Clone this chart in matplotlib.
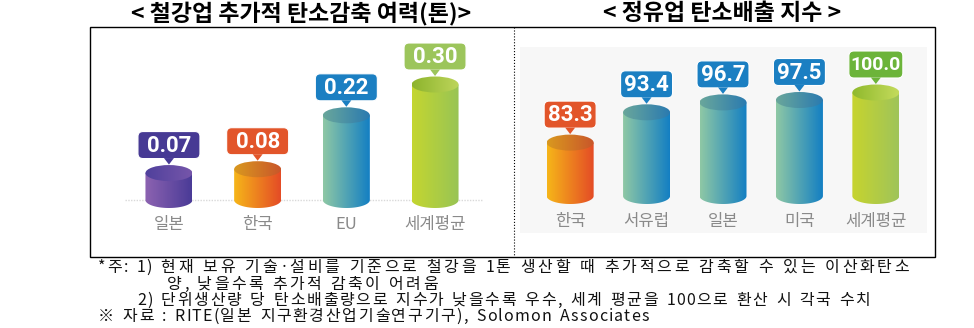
import numpy as np
import matplotlib
matplotlib.use('Agg')
import matplotlib.pyplot as plt
from matplotlib.patches import Polygon, Ellipse, FancyBboxPatch, Rectangle
from matplotlib.colors import LinearSegmentedColormap

plt.rcParams['font.family'] = ['Noto Sans CJK KR', 'DejaVu Sans']

W, H = 974, 328

# data
steel_cats = ['일본', '한국', 'EU', '세계평균']
steel_vals = [0.07, 0.08, 0.22, 0.30]
steel_labels = ['0.07', '0.08', '0.22', '0.30']

refine_cats = ['한국', '서유럽', '일본', '미국', '세계평균']
refine_vals = [83.3, 93.4, 96.7, 97.5, 100.0]
refine_labels = ['83.3', '93.4', '96.7', '97.5', '100.0']

titles = ['< 철강업 추가적 탄소감축 여력(톤)>', '< 정유업 탄소배출 지수 >']

notes = [
    '*주: 1) 현재 보유 기술·설비를 기준으로 철강을 1톤 생산할 때 추가적으로 감축할 수 있는 이산화탄소',
    '양, 낮을수록 추가적 감축이 어려움',
    '2) 단위생산량 당 탄소배출량으로 지수가 낮을수록 우수, 세계 평균을 100으로 환산 시 각국 수치',
    '※ 자료 : RITE(일본 지구환경산업기술연구기구), Solomon Associates',
]

# colour styles: body gradient, top gradient, callout
styles = {
    'purple': (('#8d63b1', '#4a3b97'), ('#4f409c', '#7656aa'), '#473a94'),
    'orange': (('#f6b619', '#e44b26'), ('#d9991f', '#c9562a'), '#e2552a'),
    'blue': (('#8fc8a5', '#137fc3'), ('#6aa79b', '#2a7ab0'), '#1b7fc2'),
    'green': (('#c4d630', '#98c455'), ('#8db42c', '#bdd55b'), '#9cc55b'),
    'green2': (('#c7d42e', '#9fc45a'), ('#8fb92c', '#c4db5c'), '#6cb43a'),
}
steel_styles = ['purple', 'orange', 'blue', 'green']
refine_styles = ['orange', 'blue', 'blue', 'blue', 'green2']

fig = plt.figure(figsize=(W / 100, H / 100), dpi=100)
bg = fig.add_axes([0, 0, 1, 1], zorder=0)
bg.set_xlim(0, W)
bg.set_ylim(H, 0)
bg.axis('off')
bg.add_patch(Rectangle((520, 47), 407, 186, fc='#f7f7f7', ec='none'))

ov = fig.add_axes([0, 0, 1, 1], zorder=5)
ov.set_xlim(0, W)
ov.set_ylim(H, 0)
ov.axis('off')


def make_axes(x0, x1, ytop, ybot):
    ax = fig.add_axes([x0 / W, 1 - ybot / H, (x1 - x0) / W, (ybot - ytop) / H], zorder=2)
    ax.patch.set_alpha(0)
    for s in ax.spines.values():
        s.set_visible(False)
    ax.set_yticks([])
    return ax


def grad_fill(ax, patch, c1, c2, extent, z):
    ax.add_patch(patch)
    cmap = LinearSegmentedColormap.from_list('g', [c1, c2])
    g = np.linspace(0, 1, 256).reshape(1, -1)
    im = ax.imshow(g, cmap=cmap, extent=extent, aspect='auto',
                   interpolation='bicubic', zorder=z)
    im.set_clip_path(patch)


def cylinder(ax, x, v, base, hw, eh, style, z):
    body_c, top_c, _ = styles[style]
    t = np.linspace(np.pi, 2 * np.pi, 60)
    pts = [(x - hw, v), (x - hw, base)]
    pts += list(zip(x + hw * np.cos(t), base + eh / 2 * np.sin(t)))
    pts += [(x + hw, base), (x + hw, v)]
    body = Polygon(pts, closed=True, fc='none', ec='none')
    ext = (x - hw, x + hw, base - eh, v + eh)
    grad_fill(ax, body, body_c[0], body_c[1], ext, z)
    top = Ellipse((x, v), 2 * hw, eh, fc='none', ec='none')
    grad_fill(ax, top, top_c[0], top_c[1], ext, z + 0.5)


def to_px(ax, x, y):
    d = ax.transData.transform((x, y))
    return ov.transData.inverted().transform(d)


def panel(ax, cats, vals, labels, sty, base, xlim, ylim, pxu_x, pxu_y, box_w, label_pad):
    ax.set_xlim(*xlim)
    ax.set_ylim(*ylim)
    hw = 23.5 / pxu_x
    eh = 16 / pxu_y
    for i, (v, s) in enumerate(zip(vals, sty)):
        cylinder(ax, i, v, base, hw, eh, s, 3 + i)
    ax.set_xlim(*xlim)
    ax.set_ylim(*ylim)
    ax.set_xticks(range(len(cats)), cats)
    ax.tick_params(axis='x', length=0, pad=label_pad, labelsize=12, labelcolor='#8a8a8a')
    for i, (v, lab, s) in enumerate(zip(vals, labels, sty)):
        cx, cy = to_px(ax, i, v)
        tip = cy - 16 / 2 - 0.5
        bw = box_w + (2 if len(lab) > 4 else 0)
        bh = 27
        bb = tip - 6
        col = styles[s][2]
        ov.add_patch(FancyBboxPatch((cx - bw / 2, bb - bh), bw, bh,
                                    boxstyle='round,pad=0,rounding_size=5',
                                    fc=col, ec='white', lw=0.8))
        ov.add_patch(Polygon([(cx - 5, bb - 0.5), (cx + 5, bb - 0.5), (cx, tip)],
                             closed=True, fc=col, ec='none'))
        ov.text(cx, bb - bh / 2 + 0.5, lab, ha='center', va='center', color='white',
                fontsize=16 if len(lab) <= 4 else 14, fontweight='bold',
                family=['Roboto', 'DejaVu Sans'])


# left panel: 0 at y=200px, 385 px per unit, spacing 88.7px
axl = make_axes(98, 506, 30, 212)
panel(axl, steel_cats, steel_vals, steel_labels, steel_styles, 0,
      (-0.8, 3.8), (-(212 - 200) / 385, (200 - 30) / 385), 88.7, 385, 62, 3)
axl.axhline(0, xmin=0.066, xmax=0.944, color='#d9d9d9', lw=1, ls=(0, (1, 1)), zorder=1)

# right panel: base 65.5 at y=196px, 3 px per unit, spacing 76.43px
axr = make_axes(509, 937, 30, 209)
panel(axr, refine_cats, refine_vals, refine_labels, refine_styles, 65.5,
      (-0.8, 4.8), (65.5 - (209 - 196) / 3, 65.5 + (196 - 30) / 3), 76.43, 3.0, 52, 3)

# frame, divider, titles
ov.add_patch(Rectangle((90, 27), 845, 230, fill=False, ec='black', lw=1.0))
ov.plot([514, 514], [27, 257], color='black', lw=0.8, ls=':')
ov.text(301, 13, titles[0], ha='center', va='center', fontsize=16.5, fontweight='bold')
ov.text(722, 13, titles[1], ha='center', va='center', fontsize=16.5, fontweight='bold')

# footnotes, laid out char by char: hangul gets a little more tracking than latin
renderer = fig.canvas.get_renderer()
fs = 11.5
space_w = 7.0
track_o = 1.2


def is_hangul(c):
    return '\uac00' <= c <= '\ud7a3'


def char_w(ch):
    t = ov.text(0, 0, ch, fontsize=fs)
    w = t.get_window_extent(renderer).width
    t.remove()
    return w


def advance(c, track_h):
    if c == ' ':
        return space_w
    return char_w(c) + (track_h if is_hangul(c) else track_o)


starts = [98, 167, 137, 98]
ends = [912, 440, 872, 650]
baselines = [272, 289, 305, 321]
for line, x, x_end, y in zip(notes, starts, ends, baselines):
    nh = sum(is_hangul(c) for c in line)
    base_w = sum(advance(c, 0) for c in line)
    track_h = max(0.0, (x_end - x - base_w) / nh)
    for c in line:
        if c != ' ':
            ov.text(x, y, c, ha='left', va='baseline', fontsize=fs, color='#111111')
        x += advance(c, track_h)

fig.savefig('out.png', dpi=100)
